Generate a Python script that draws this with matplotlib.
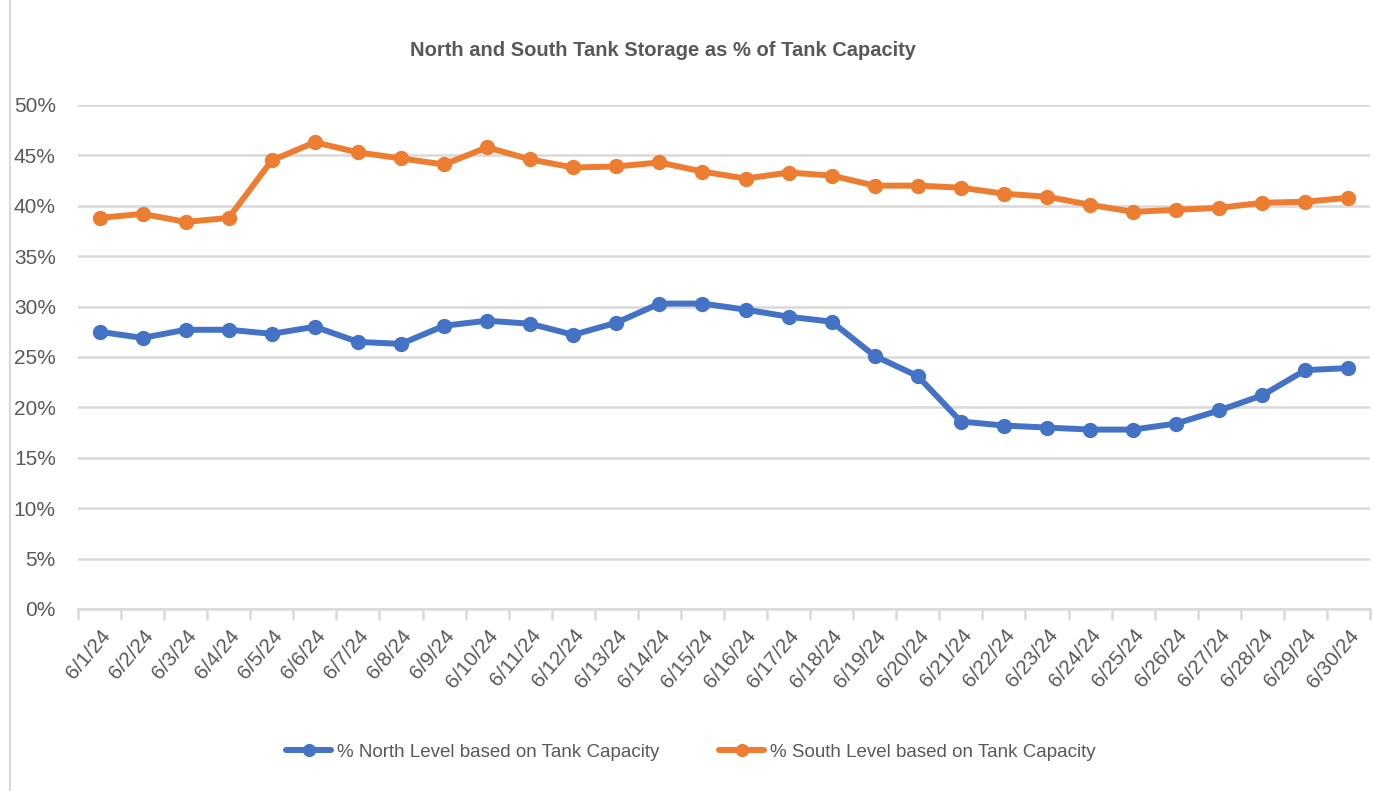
import matplotlib
matplotlib.use("Agg")
import matplotlib.pyplot as plt
from matplotlib.patches import Rectangle
from matplotlib.ticker import FixedLocator, NullFormatter

plt.rcParams['font.family'] = ['Liberation Sans', 'DejaVu Sans']

dates = ["6/1/24", "6/2/24", "6/3/24", "6/4/24", "6/5/24", "6/6/24", "6/7/24", "6/8/24",
         "6/9/24", "6/10/24", "6/11/24", "6/12/24", "6/13/24", "6/14/24", "6/15/24",
         "6/16/24", "6/17/24", "6/18/24", "6/19/24", "6/20/24", "6/21/24", "6/22/24",
         "6/23/24", "6/24/24", "6/25/24", "6/26/24", "6/27/24", "6/28/24", "6/29/24", "6/30/24"]
north = [27.5, 26.9, 27.7, 27.7, 27.3, 28.0, 26.5, 26.3, 28.1, 28.6, 28.3, 27.2, 28.4, 30.3, 30.3,
         29.7, 29.0, 28.5, 25.1, 23.1, 18.6, 18.2, 18.0, 17.8, 17.8, 18.4, 19.7, 21.2, 23.7, 23.9]
south = [38.8, 39.2, 38.4, 38.8, 44.5, 46.3, 45.3, 44.7, 44.1, 45.8, 44.6, 43.8, 43.9, 44.3, 43.4,
         42.7, 43.3, 43.0, 42.0, 42.0, 41.8, 41.2, 40.9, 40.1, 39.4, 39.6, 39.8, 40.3, 40.4, 40.8]
yticks = [0, 5, 10, 15, 20, 25, 30, 35, 40, 45, 50]

BLUE = "#4472C4"
ORANGE = "#ED7D31"
GRID = "#D9D9D9"
TXT = "#595959"

fig = plt.figure(figsize=(13.73, 7.91), dpi=100)
ax = fig.add_axes([78/1373, 1-609/791, 1292/1373, 504/791])

x = list(range(len(dates)))
ax.plot(x, north, color=BLUE, lw=4.3, marker='o', ms=10, label="% North Level based on Tank Capacity",
        solid_capstyle='round', solid_joinstyle='round', zorder=3)
ax.plot(x, south, color=ORANGE, lw=4.3, marker='o', ms=10, label="% South Level based on Tank Capacity",
        solid_capstyle='round', solid_joinstyle='round', zorder=3)

ax.set_xlim(-0.5, len(dates) - 0.5)
ax.set_ylim(0, 50)
ax.set_yticks(yticks)
ax.set_yticklabels([f"{v}%" for v in yticks], fontsize=15, color=TXT)
ax.yaxis.grid(True, color=GRID, lw=1.8)
ax.set_axisbelow(True)
ax.tick_params(axis='y', length=0, pad=16)

# category labels at centers, tick marks at boundaries
ax.set_xticks(x)
ax.set_xticklabels(dates, rotation=50, ha='right', rotation_mode='anchor', fontsize=15, color=TXT)
ax.tick_params(axis='x', which='major', length=0, pad=12)
ax.xaxis.set_minor_locator(FixedLocator([i - 0.5 for i in range(len(dates) + 1)]))
ax.xaxis.set_minor_formatter(NullFormatter())
ax.tick_params(axis='x', which='minor', length=8, color=GRID, width=1.8)

for s in ['top', 'right', 'left']:
    ax.spines[s].set_visible(False)
ax.spines['bottom'].set_color(GRID)
ax.spines['bottom'].set_linewidth(1.8)

fig.text(663/1373, 1-50/791, "North and South Tank Storage as % of Tank Capacity", ha='center', va='center',
         fontsize=14.5, fontweight='bold', color=TXT)

leg = fig.legend(loc='center', bbox_to_anchor=(691/1373, 1-752/791), ncol=2, frameon=False,
                 fontsize=13.5, labelcolor=TXT, handlelength=2.4, columnspacing=3.2, handletextpad=0.3,
                 markerscale=0.85)

fig.patches.append(Rectangle((10/1373, -0.01), 1.0, 1.02, transform=fig.transFigure,
                             fill=False, edgecolor=GRID, lw=1.5))

fig.savefig("out.png", dpi=100, facecolor='white')
